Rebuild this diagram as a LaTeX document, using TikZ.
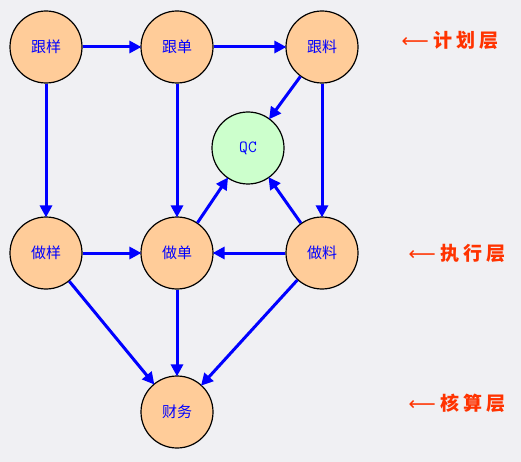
\documentclass[tikz,border=0pt]{standalone}
\usepackage{fontspec}
\newfontfamily\cjk{Noto Sans CJK SC}
\newfontfamily\sym{DejaVu Sans}
\usetikzlibrary{arrows.meta, positioning}
\definecolor{bgGray}{RGB}{240,240,243}
\definecolor{peach}{RGB}{255,204,153}
\definecolor{mint}{RGB}{204,255,204}
\definecolor{layerRed}{RGB}{255,51,0}
\newcommand{\gap}{\hspace{4pt}}
\newcommand{\larr}{{\sym\mdseries ⟵}\hspace{5pt}}
\tikzset{
    font=\cjk,
    >={Triangle[length=12pt, width=12pt]},
    % Shapes
    stage/.style={circle, draw=black, line width=1.2pt, fill=peach,
                  minimum size=72pt, inner sep=0pt, text=blue, font=\cjk\fontsize{15}{17}\selectfont},
    qcnode/.style={stage, fill=mint, font=\ttfamily\fontsize{17}{19}\selectfont},
    % Flow & Labels
    flow/.style={->, line width=3pt, blue, shorten >=-1pt},
    layerlbl/.style={text=layerRed, font=\cjk\bfseries\fontsize{19}{21}\selectfont, anchor=west}
}
\begin{document}
\begin{tikzpicture}[x=1pt, y=-1pt]

\fill[bgGray] (0,0) rectangle (521,462);
\useasboundingbox (0,0) rectangle (521,462);

% plan layer
\node[stage] (gy) at (46,47) {跟样};
\node[stage] (gd) at (177,47) {跟单};
\node[stage] (gl) at (322,47) {跟料};
% QC
\node[qcnode] (qc) at (248,148) {QC};
% execution layer
\node[stage] (zy) at (46,253) {做样};
\node[stage] (zd) at (177,253) {做单};
\node[stage] (zl) at (322,253) {做料};
% accounting layer
\node[stage] (cw) at (177,412) {财务};

\node[layerlbl] (l1) at (398,40) {\larr 计\gap 划\gap 层};
\node[layerlbl] (l2) at (405,253) {\larr 执\gap 行\gap 层};
\node[layerlbl] (l3) at (405,403) {\larr 核\gap 算\gap 层};

\draw[flow] (gy) -- (gd);
\draw[flow] (gd) -- (gl);
\draw[flow] (gy) -- (zy);
\draw[flow] (gd) -- (zd);
\draw[flow] (gl) -- (zl);

\draw[flow] (gl) -- (qc);
\draw[flow] (zd) -- (qc);
\draw[flow] (zl) -- (qc);

\draw[flow] (zy) -- (zd);
\draw[flow] (zl) -- (zd);

\draw[flow] (zy) -- (cw);
\draw[flow] (zd) -- (cw);
\draw[flow] (zl) -- (cw);

\end{tikzpicture}
\end{document}
